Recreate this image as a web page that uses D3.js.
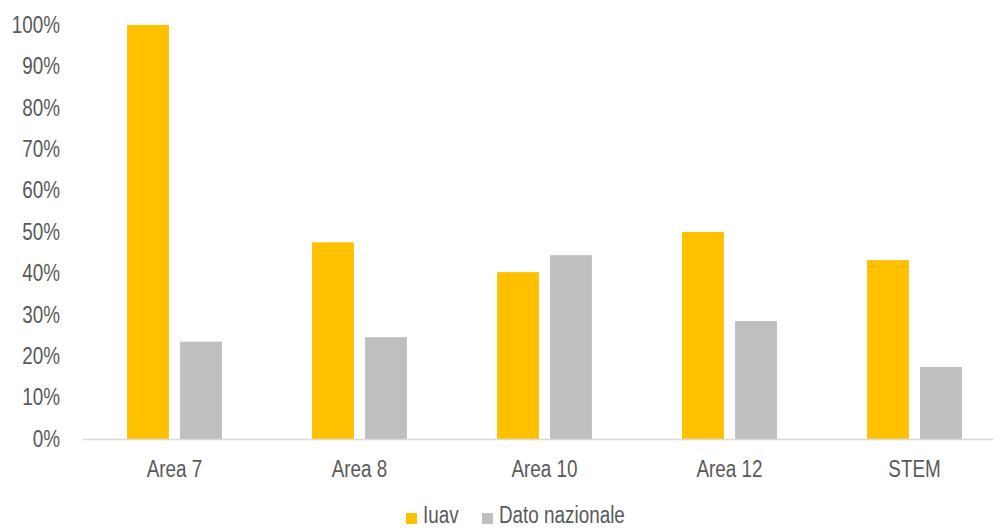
<!DOCTYPE html>
<html>
<head>
<meta charset="utf-8">
<script src="https://cdn.jsdelivr.net/npm/d3@7"></script>
<style>
  body { margin: 0; background: #fff; }
  text { font-family: "Liberation Sans Narrow", "Arial Narrow", "Liberation Sans", Arial, sans-serif; fill: #595959; }
</style>
</head>
<body>
<svg id="chart" width="993" height="529"></svg>
<script>
const categories = ["Area 7", "Area 8", "Area 10", "Area 12", "STEM"];
const iuav = [100, 47.5, 40.3, 50.0, 43.2];
const nazionale = [23.5, 24.6, 44.4, 28.5, 17.4];
const seriesNames = ["Iuav", "Dato nazionale"];
const colors = ["#FFC000", "#BFBFBF"];
const yTicks = [0, 10, 20, 30, 40, 50, 60, 70, 80, 90, 100];

var svg = d3.select("#chart");
// plot runs past the right edge a little, like the original crop
var margin = { top: 25, right: -14, bottom: 90, left: 82 };
var width = +svg.attr("width") - margin.left - margin.right;
var height = +svg.attr("height") - margin.top - margin.bottom;

var g = svg.append("g").attr("transform", `translate(${margin.left},${margin.top})`);

var x = d3.scaleBand().domain(categories).range([0, width]);
var x1 = d3.scaleBand().domain(seriesNames).range([0, x.bandwidth()]).paddingInner(0.21).paddingOuter(0.85);
var y = d3.scaleLinear().domain([0, 100]).range([height, 0]);

// y axis labels, no line
var yAxis = g.append("g")
  .call(d3.axisLeft(y).tickValues(yTicks).tickFormat(d => d + "%").tickSize(0).tickPadding(22));
yAxis.select(".domain").remove();
yAxis.selectAll("text").style("font-size", "23px").attr("fill", "#595959");

var rows = categories.map((c, i) => ({ cat: c, vals: [iuav[i], nazionale[i]] }));

var groups = g.selectAll(".grp").data(rows).enter().append("g")
  .attr("class", "grp")
  .attr("transform", d => `translate(${x(d.cat)},0)`);

groups.selectAll("rect")
  .data(d => d.vals.map((v, k) => ({ name: seriesNames[k], v: v, k: k })))
  .enter().append("rect")
  .attr("x", d => x1(d.name))
  .attr("width", x1.bandwidth())
  .attr("y", d => y(d.v))
  .attr("height", d => height - y(d.v))
  .attr("fill", d => colors[d.k]);

// x axis
var xAxis = g.append("g").attr("transform", `translate(0,${height})`)
  .call(d3.axisBottom(x).tickSize(0).tickPadding(22));
xAxis.select(".domain").attr("stroke", "#D9D9D9").attr("stroke-width", 1.5);
xAxis.selectAll("text").style("font-size", "23px").attr("fill", "#595959");

// legend
var legend = svg.append("g").attr("transform", "translate(406,523)");
var legX = [0, 76];
seriesNames.forEach((n, i) => {
  legend.append("rect")
    .attr("x", legX[i])
    .attr("y", -10)
    .attr("width", 11)
    .attr("height", 11)
    .attr("fill", colors[i]);
  legend.append("text")
    .attr("x", legX[i] + 17)
    .attr("y", 0)
    .style("font-size", "23px")
    .text(n);
});

// no narrow font installed: squeeze text to look like Arial Narrow
svg.selectAll("text").each(function() {
  var len = this.getComputedTextLength();
  d3.select(this).attr("textLength", len * 0.82).attr("lengthAdjust", "spacingAndGlyphs");
});
</script>
</body>
</html>
